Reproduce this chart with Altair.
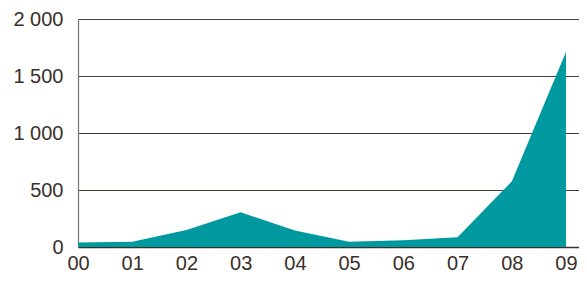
import altair as alt
import pandas as pd

years = [0, 1, 2, 3, 4, 5, 6, 7, 8, 9]
values = [40, 45, 150, 305, 145, 45, 60, 85, 575, 1710]
y_ticks = [0, 500, 1000, 1500, 2000]

df = pd.DataFrame({"year": years, "value": values})

TEXT = "#3b2f2a"
FONT = "Liberation Sans"

area = alt.Chart(df).mark_area(color="#00999f", opacity=1).encode(
    x=alt.X("year:Q",
            scale=alt.Scale(domain=[0, 9.24], nice=False, zero=False),
            axis=alt.Axis(values=years, labelExpr="'0' + datum.value",
                          title=None, grid=False, ticks=False, domain=True,
                          domainColor=TEXT, domainWidth=1.5,
                          labelFontSize=20, labelColor=TEXT, labelFont=FONT,
                          labelPadding=6, labelFlush=False)),
    y=alt.Y("value:Q",
            scale=alt.Scale(domain=[0, 2000], nice=False),
            axis=alt.Axis(values=y_ticks,
                          labelExpr="replace(format(datum.value, ','), ',', ' ')",
                          title=None, grid=True, gridColor="#4a3c35", gridWidth=1,
                          ticks=False, domain=True, domainColor="#7a7270",
                          domainWidth=1.2,
                          labelFontSize=20, labelColor=TEXT, labelFont=FONT,
                          labelPadding=15)),
)

chart = area.properties(
    width=501, height=228,
    autosize=alt.AutoSizeParams(type="none"),
    padding={"left": 70, "top": 11, "right": 0, "bottom": 27},
).configure_view(stroke=None)

chart.save("out.html", embed_options={"renderer": "svg", "actions": False})
